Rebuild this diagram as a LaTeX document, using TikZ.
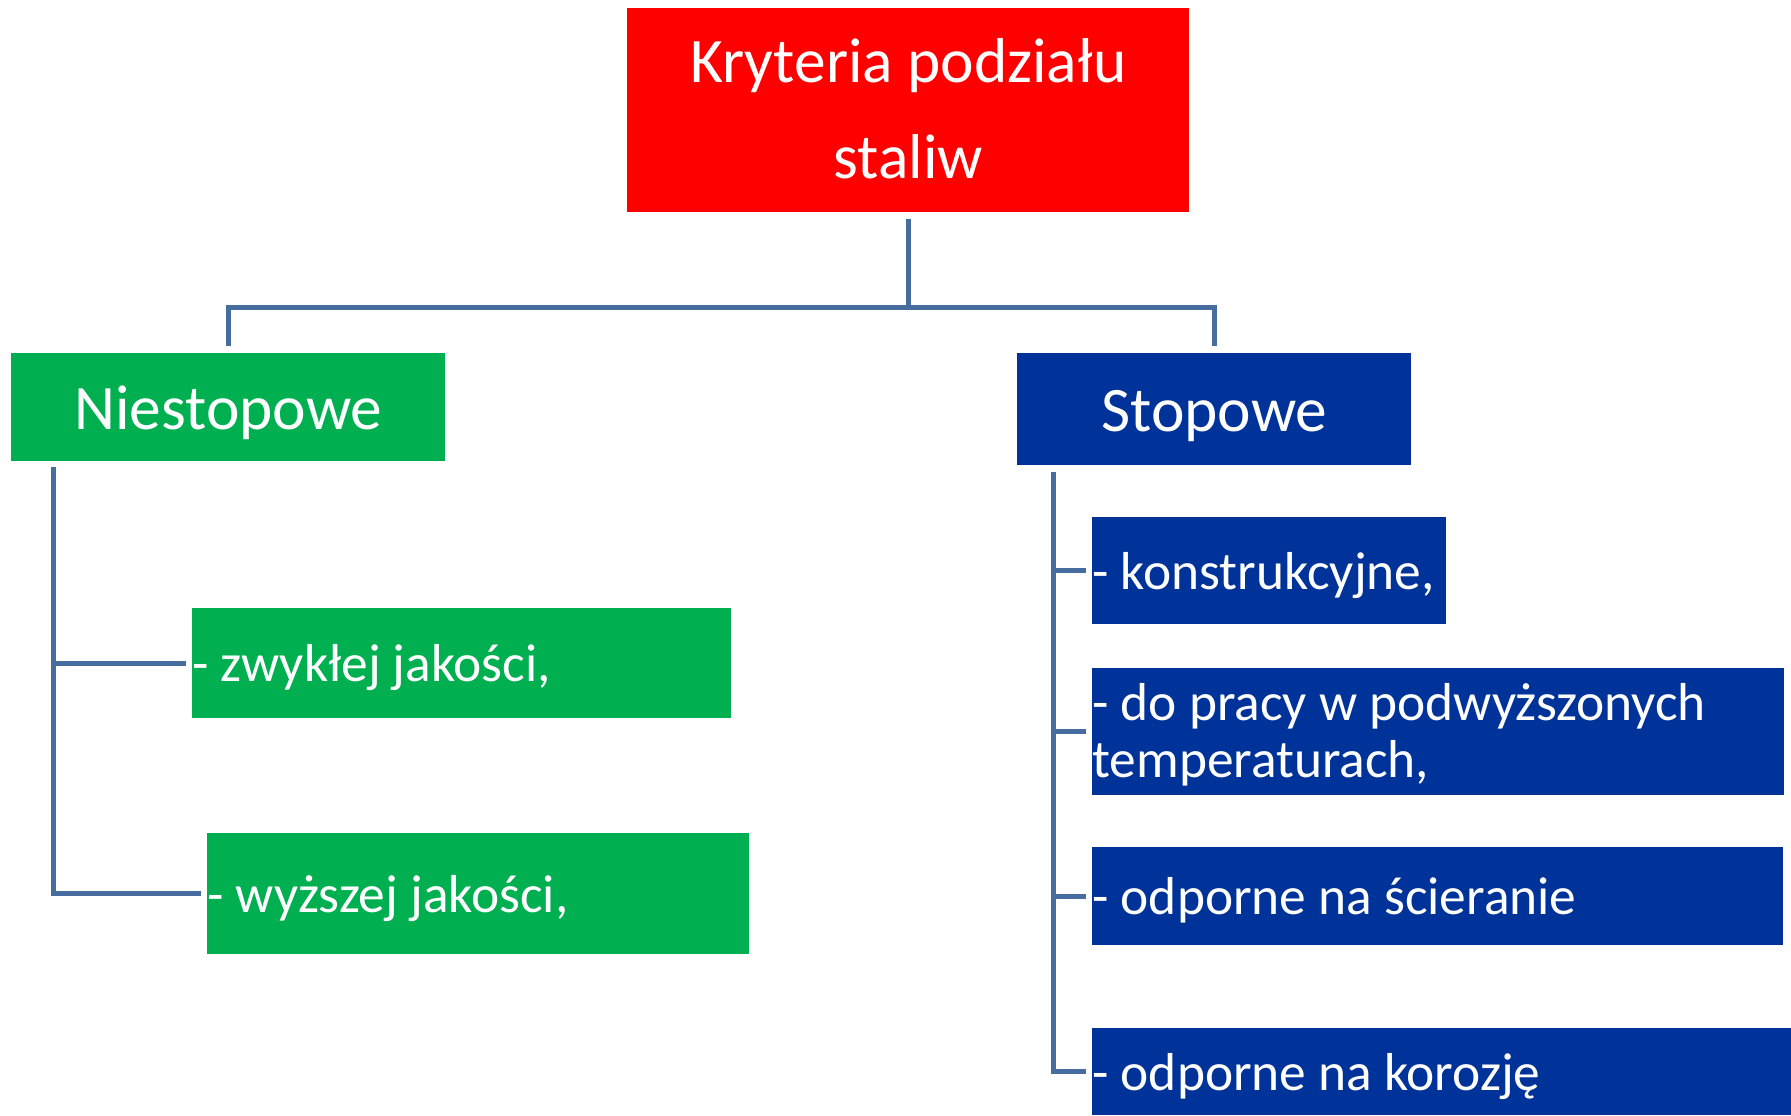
\documentclass[tikz,border=0pt]{standalone}
\usepackage{fontspec}
\setmainfont{Carlito}
\usepackage{xcolor}
\usetikzlibrary{calc,positioning}
\definecolor{kritred}{RGB}{255,0,0}
\definecolor{niestgreen}{RGB}{0,176,80}
\definecolor{stopblue}{RGB}{0,51,153}
\definecolor{linkblue}{RGB}{70,108,160}

\begin{document}
\begin{tikzpicture}[
    x=0.5pt, y=-0.5pt,
    nosep/.style={inner sep=0},
    box/.style={rectangle, nosep, anchor=north west, text=white, text depth=0pt},
    head/.style={box, font=\fontsize{31.7}{48}\selectfont, align=flush center, text height=21.6pt},
    item/.style={box, font=\fontsize{26.7}{28.5}\selectfont, align=flush left, text height=18.2pt},
    link/.style={draw=linkblue, line width=2.5pt}]
\useasboundingbox (0,0) rectangle (1791,1115);

\node (krit)  [head, fill=kritred, text width=281pt, minimum height=102pt, text depth=50pt] at (627,8) {Kryteria podziału\\staliw};
\node (niest) [head, fill=niestgreen, text width=217pt, minimum height=54pt] at (11,353) {Niestopowe};
\node (stop)  [head, fill=stopblue, text width=197pt, minimum height=56pt] at (1017,353) {Stopowe};

\node (zwykle) [item, fill=niestgreen, text width=269.5pt, minimum height=55pt] at (192,608) {- zwykłej jakości,};
\node (wyzsze) [item, fill=niestgreen, text width=271pt, minimum height=60.5pt] at (207,833) {- wyższej jakości,};

\node (konstr) [item, fill=stopblue, text width=177pt, minimum height=53.5pt] at (1092,517) {- konstrukcyjne,};
\node (podwyz) [item, fill=stopblue, text width=346pt, minimum height=63.5pt, text depth=29.5pt] at (1092,668) {- do pracy w podwyższonych\\temperaturach,};
\node (scier)  [item, fill=stopblue, text width=345.5pt, minimum height=49pt] at (1092,847) {- odporne na ścieranie};
\node (koroz)  [item, fill=stopblue, text width=349.5pt, minimum height=43.5pt] at (1092,1028) {- odporne na korozję};

% top level
\coordinate (hub) at ($(krit.south)+(0,95)$);
\draw[link] ($(krit.south)+(0,6)$) -- (hub);
\draw[link] ($(niest.north)+(0,-7)$) |- (hub) -| ($(stop.north)+(0,-7)$);

% niestopowe
\coordinate (ltrunk) at ($(niest.south west)+(42,5)$);
\draw[link] (ltrunk) |- ($(wyzsze.west)+(-6,0)$);
\draw[link] (ltrunk |- zwykle.west) -- ($(zwykle.west)+(-6,0)$);

% stopowe
\coordinate (rtrunk) at ($(stop.south west)+(36,6)$);
\draw[link] (rtrunk) |- ($(koroz.west)+(-6,0)$);
\foreach \n in {konstr,podwyz,scier}
    \draw[link] (rtrunk |- \n.west) -- ($(\n.west)+(-6,0)$);

\end{tikzpicture}
\end{document}
